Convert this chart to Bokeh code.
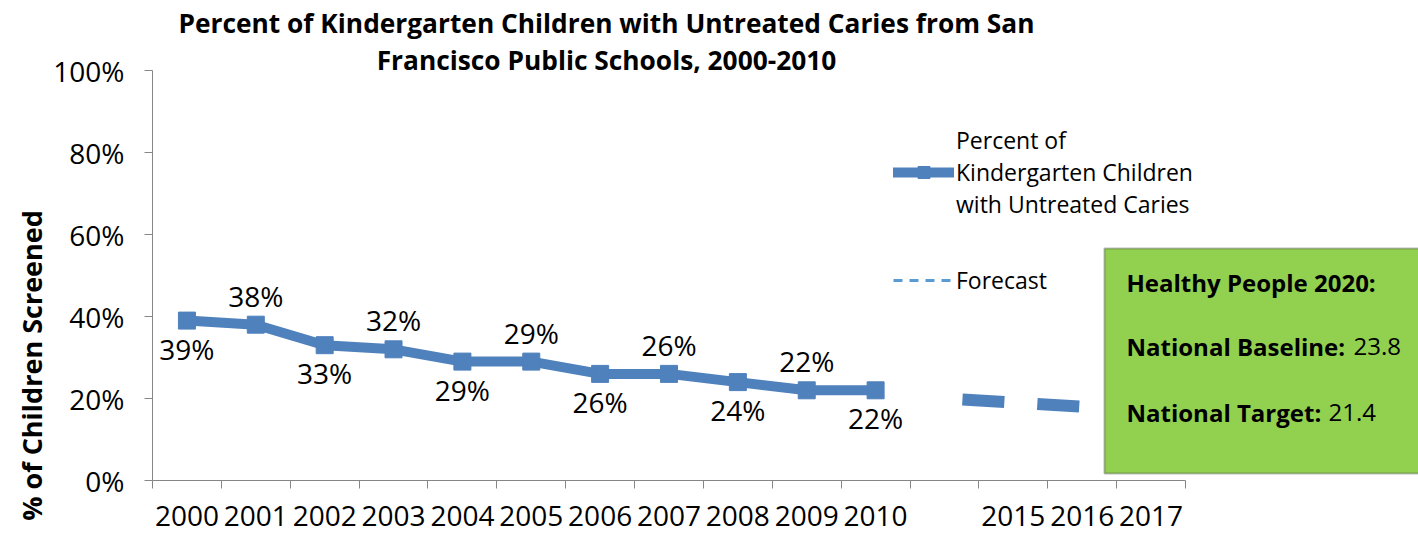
import math
from bokeh.plotting import figure
from bokeh.models import (Range1d, FixedTicker, PrintfTickFormatter, Label,
                          BoxAnnotation, Legend, LegendItem, ColumnDataSource)
from bokeh.core.properties import value
from bokeh.embed import file_html
from bokeh.resources import INLINE

# ---- data -------------------------------------------------------------
categories = ["2000", "2001", "2002", "2003", "2004", "2005", "2006",
              "2007", "2008", "2009", "2010", "", "2015", "2016", "2017"]
observed_years = ["2000", "2001", "2002", "2003", "2004", "2005",
                  "2006", "2007", "2008", "2009", "2010"]
observed_pct = [39, 38, 33, 32, 29, 29, 26, 26, 24, 22, 22]
label_side = ["below", "above", "below", "above", "below", "above",
              "below", "above", "below", "above", "below"]
forecast_years = ["", "2015", "2016"]
forecast_pct = [20, 19, 18]
y_ticks = [0, 20, 40, 60, 80, 100]

series_name = "Percent of\nKindergarten Children\nwith Untreated Caries"
forecast_name = "Forecast"
title_lines = ["Percent of Kindergarten Children with Untreated Caries from San",
               "Francisco Public Schools, 2000-2010"]
y_title = "% of Children Screened"
hp_heading = "Healthy People 2020:"
hp_rows = [("National Baseline:", "23.8"), ("National Target:", "21.4")]

# ---- style / layout ---------------------------------------------------
FONT = "Open Sans"
BLUE = "#4F81BD"
AXIS_GRAY = "#868686"
W, H = 1418, 535
# pixel extent of the plotting area (axes drawn at fixed locations)
AX_LEFT, AX_RIGHT, AX_TOP, AX_BOTTOM = 152, 1185, 70, 480

cat_w = (AX_RIGHT - AX_LEFT) / len(categories)      # px per category
px_per_pct = (AX_BOTTOM - AX_TOP) / 100.0           # px per percent
pos = {c: i + 0.5 for i, c in enumerate(categories)}

p = figure(width=W, height=H, title=None, output_backend="svg",
           toolbar_location=None,
           x_range=Range1d(-AX_LEFT / cat_w, (W - AX_LEFT) / cat_w),
           y_range=Range1d(-(H - AX_BOTTOM) / px_per_pct, AX_BOTTOM / px_per_pct),
           min_border=0, min_border_left=0, min_border_right=0,
           min_border_top=0, min_border_bottom=0)
p.xgrid.grid_line_color = None
p.ygrid.grid_line_color = None
p.outline_line_color = None
p.background_fill_color = "white"
p.border_fill_color = "white"

# category axis: tick marks between categories, labels centred
xa = p.xaxis[0]
xa.fixed_location = 0
xa.ticker = FixedTicker(ticks=[pos[c] for c in categories],
                        minor_ticks=list(range(len(categories) + 1)))
xa.major_label_overrides = {pos[c]: c for c in categories}
xa.bounds = (0, len(categories))
xa.major_tick_line_color = None
xa.major_tick_in = 0
xa.major_tick_out = 8
xa.minor_tick_in = 0
xa.minor_tick_out = 8
xa.minor_tick_line_color = AXIS_GRAY
xa.axis_line_color = AXIS_GRAY
xa.major_label_text_font = FONT
xa.major_label_text_font_size = "28px"
xa.major_label_text_color = "black"
xa.major_label_standoff = 17

ya = p.yaxis[0]
ya.fixed_location = 0
ya.ticker = FixedTicker(ticks=y_ticks, minor_ticks=[])
ya.formatter = PrintfTickFormatter(format="%d%%")
ya.bounds = (0, 100)
ya.major_tick_in = 0
ya.major_tick_out = 8
ya.major_tick_line_color = AXIS_GRAY
ya.axis_line_color = AXIS_GRAY
ya.major_label_text_font = FONT
ya.major_label_text_font_size = "28px"
ya.major_label_text_color = "black"
ya.major_label_standoff = 20

# ---- series -----------------------------------------------------------
src = ColumnDataSource(dict(
    x=[pos[c] for c in observed_years], y=observed_pct,
    label=[f"{v}%" for v in observed_pct]))
line_r = p.line("x", "y", source=src, line_color=BLUE, line_width=10,
                line_join="round", line_cap="round")
mark_r = p.scatter("x", "y", source=src, marker="square", size=17,
                   fill_color=BLUE, line_color=BLUE)

for side, dy in (("below", 28), ("above", -29)):
    idx = [i for i, s in enumerate(label_side) if s == side]
    p.text(x=[src.data["x"][i] for i in idx],
           y=[observed_pct[i] for i in idx],
           text=[src.data["label"][i] for i in idx],
           text_align="center", text_baseline="middle", y_offset=dy,
           text_font=value(FONT), text_font_size="28px", text_color="black")

fc_r = p.line(x=[pos[c] for c in forecast_years], y=forecast_pct,
              line_color=BLUE, line_width=12, line_dash="42 33",
              line_dash_offset=57)
# thin dashed swatch shown in the legend for the forecast
fc_key = p.line(x=[float("nan")], y=[float("nan")], line_color="#5B9BD5",
                line_width=3, line_dash="9 7")

legend = Legend(items=[LegendItem(label=series_name, renderers=[line_r, mark_r]),
                       LegendItem(label=forecast_name, renderers=[fc_key])],
                location=(893, 239), orientation="vertical",
                padding=0, margin=0, spacing=44,
                glyph_width=61, glyph_height=30, label_standoff=2,
                label_text_font=FONT, label_text_font_size="23px",
                label_text_color="black",
                border_line_color=None, background_fill_alpha=0)
p.add_layout(legend)

# ---- Healthy People 2020 panel ---------------------------------------
p.add_layout(BoxAnnotation(left=1104, right=W + 10, top=248, bottom=473,
                           left_units="canvas", right_units="canvas",
                           top_units="canvas", bottom_units="canvas",
                           fill_color="#92D050", fill_alpha=1,
                           line_color="#262626", line_width=2))
p.add_layout(Label(x=1126, y=282, x_units="canvas", y_units="canvas",
                   text=hp_heading, text_font=FONT, text_font_style="bold",
                   text_font_size="24px", text_baseline="middle",
                   text_color="black"))
for k, (name, val) in enumerate(hp_rows):
    yy = 346 + 66 * k
    p.add_layout(Label(x=1126, y=yy, x_units="canvas", y_units="canvas",
                       text=name, text_font=FONT, text_font_style="bold",
                       text_font_size="24px", text_baseline="middle",
                       text_color="black"))
    p.add_layout(Label(x=[1353, 1328][k], y=yy, x_units="canvas", y_units="canvas",
                       text=val, text_font=FONT, text_color="black",
                       text_font_size="24px", text_baseline="middle"))

# ---- titles -----------------------------------------------------------
for k, t in enumerate(title_lines):
    p.add_layout(Label(x=606, y=22.5 + 36.5 * k, x_units="canvas", y_units="canvas",
                       text=t, text_font=FONT, text_font_style="bold",
                       text_font_size="26.3px", text_align="center",
                       text_baseline="middle", text_color="black"))
p.add_layout(Label(x=31, y=365, x_units="canvas", y_units="canvas",
                   text=y_title, angle=math.pi / 2, text_font=FONT,
                   text_font_style="bold", text_font_size="27px",
                   text_align="center", text_baseline="middle",
                   text_color="black"))

open("out.html", "w").write(file_html(p, INLINE))
